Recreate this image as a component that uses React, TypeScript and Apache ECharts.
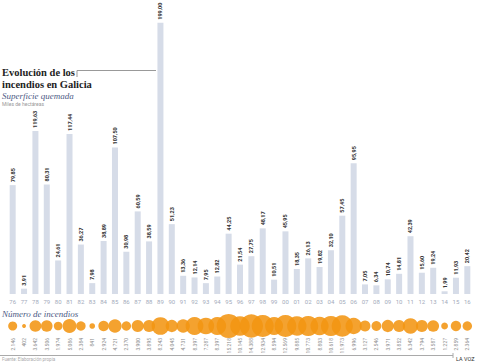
import React, { useEffect, useRef } from "react";
import * as echarts from "echarts";

const years = ["76","77","78","79","80","81","82","83","84","85","86","87","88","89","90","91","92","93","94","95","96","97","98","99","00","01","02","03","04","05","06","07","08","09","10","11","12","13","14","15","16"];
const burnedArea = [79.85,3.91,119.63,80.31,24.61,117.44,36.27,7.98,38.89,107.5,30.98,60.59,38.59,199.0,51.23,13.36,12.14,7.95,12.82,44.25,21.54,27.75,48.17,10.51,45.95,18.35,26.13,19.82,32.1,57.45,95.95,7.05,6.34,10.74,14.81,42.39,15.6,19.24,1.99,11.93,20.42];
const fireCount = [2146,402,3642,3506,1974,5086,2384,841,2924,4721,2370,3900,3895,8243,4045,4731,8397,7287,8397,15218,10145,14388,12934,8594,12569,9885,10773,8803,10618,11973,6996,3127,2546,3971,3852,6342,3794,3587,1227,2859,2364];

const fmtArea = (v: number) => v.toFixed(2).replace(".", ",");
const fmtCount = (v: number) => String(v).replace(/\B(?=(\d{3})+(?!\d))/g, ".");

const SERIF = "'Liberation Serif', 'DejaVu Serif', serif";

export default function App() {
  const ref = useRef<HTMLDivElement>(null);
  useEffect(() => {
    document.body.style.margin = "0";
    const chart = echarts.init(ref.current!, null, { renderer: "svg" });
    const maxCount = Math.max(...fireCount);
    chart.setOption({
      animation: false,
      backgroundColor: "#ffffff",
      grid: [
        { left: 7, right: 7, top: 22.7, bottom: 69 },
        { left: 7, right: 7, top: 316, height: 20 },
      ],
      xAxis: [
        {
          type: "category", gridIndex: 0, data: years,
          axisLine: { show: false }, axisTick: { show: false },
          axisLabel: { color: "#a3abbb", fontSize: 6, margin: 4, fontFamily: "Roboto", interval: 0 },
        },
        {
          type: "category", gridIndex: 1, data: fireCount.map(fmtCount),
          axisLine: { show: false }, axisTick: { show: false },
          axisLabel: { color: "#8a8a8a", fontSize: 5, rotate: 90, margin: 2, fontFamily: "Roboto", interval: 0 },
        },
      ],
      yAxis: [
        { type: "value", gridIndex: 0, min: 0, max: 199, show: false },
        { type: "value", gridIndex: 1, min: -1, max: 1, show: false },
      ],
      series: [
        {
          type: "bar", xAxisIndex: 0, yAxisIndex: 0, data: burnedArea, barWidth: 6,
          itemStyle: { color: "#d6dce8" },
          label: {
            show: true, position: "top", rotate: 90, align: "left", verticalAlign: "middle", distance: 3,
            fontSize: 5.5, fontWeight: "bold", color: "#333333", fontFamily: "Roboto",
            formatter: (p: any) => fmtArea(p.value),
          },
        },
        {
          type: "scatter", xAxisIndex: 1, yAxisIndex: 1,
          data: fireCount.map((c, i) => [i, 0, c]),
          symbolSize: (v: number[]) => Math.sqrt(v[2] / maxCount) * 24,
          itemStyle: { color: "#f39512", opacity: 0.88 },
        },
      ],
      graphic: [
        { type: "text", left: 2, top: 67, style: { text: "Evolución de los", fontSize: 10.5, fontWeight: "bold", fontFamily: SERIF, fill: "#222" } },
        { type: "text", left: 2, top: 79, style: { text: "incendios en Galicia", fontSize: 10.5, fontWeight: "bold", fontFamily: SERIF, fill: "#222" } },
        { type: "line", shape: { x1: 77, y1: 70.5, x2: 156, y2: 70.5 }, style: { stroke: "#999", lineWidth: 1 } },
        { type: "line", shape: { x1: 77, y1: 70.5, x2: 77, y2: 77 }, style: { stroke: "#999", lineWidth: 1 } },
        { type: "text", left: 2, top: 91, style: { text: "Superficie quemada", fontSize: 9, fontStyle: "italic", fontFamily: SERIF, fill: "#4d5a85" } },
        { type: "text", left: 2, top: 101, style: { text: "Miles de hectáreas", fontSize: 5, fontFamily: "Roboto", fill: "#999" } },
        { type: "text", left: 2, top: 309, style: { text: "Número de incendios", fontSize: 9, fontStyle: "italic", fontFamily: SERIF, fill: "#4d5a85" } },
        { type: "line", shape: { x1: 0, y1: 355.5, x2: 453, y2: 355.5 }, style: { stroke: "#aaa", lineWidth: 1 } },
        { type: "line", shape: { x1: 453, y1: 353, x2: 453, y2: 358 }, style: { stroke: "#aaa", lineWidth: 1 } },
        { type: "text", left: 2, top: 357, style: { text: "Fuente: Elaboración propia", fontSize: 4.5, fontFamily: "Roboto", fill: "#aaa" } },
        { type: "text", left: 456, top: 356, style: { text: "LA VOZ", fontSize: 5.5, fontFamily: "Roboto", fill: "#333" } },
      ],
    });
    return () => chart.dispose();
  }, []);
  return <div ref={ref} style={{ width: 480, height: 363 }} />;
}
